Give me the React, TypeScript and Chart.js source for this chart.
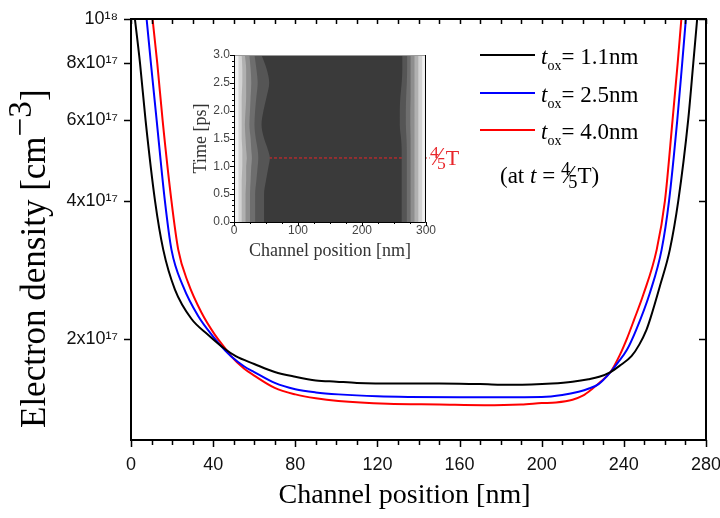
import React, { useEffect, useRef } from "react";
import { Chart, registerables } from "chart.js";
Chart.register(...registerables);

const SERIF = "'Liberation Serif', 'Times New Roman', Times, serif";
const SANS = "'Liberation Sans', Arial, Helvetica, sans-serif";

// ---- main chart data (x in nm, y in units of 1e17 cm^-3) ----
const blackX = [0, 1.9, 4.4, 7.1, 11.7, 15.7, 21.4, 29.4, 37.5, 45.6, 51, 60, 70, 80, 90, 100, 110, 130, 150, 170, 185, 195, 205, 215, 222.8, 228, 233.5, 238, 243.7, 247.5, 251, 253, 257.5, 262.4, 266.5, 271.3, 273.8, 275.7, 277];
const blackY = [11.8, 10, 8, 6, 4, 3.13, 2.56, 2.21, 2.04, 1.9, 1.83, 1.76, 1.69, 1.65, 1.62, 1.61, 1.6, 1.595, 1.595, 1.59, 1.585, 1.587, 1.595, 1.61, 1.63, 1.65, 1.69, 1.745, 1.83, 1.94, 2.09, 2.22, 2.6, 3.13, 4, 6, 8, 10, 11.6];

const blueX = [5, 7.6, 9.7, 12.5, 16.5, 19.7, 25.4, 32.7, 40, 46, 48.7, 55, 60, 70, 80, 90, 101, 120, 135, 160, 180, 200, 210, 218, 223, 227.7, 233.3, 237, 241.5, 246, 252.7, 258.4, 262, 266, 268.4, 270.2, 272];
const blueY = [13, 10, 8, 6, 4, 3.13, 2.6, 2.24, 2.02, 1.88, 1.83, 1.74, 1.69, 1.6, 1.55, 1.525, 1.51, 1.495, 1.49, 1.488, 1.488, 1.49, 1.505, 1.53, 1.555, 1.59, 1.685, 1.77, 1.89, 2.09, 2.52, 3.13, 4, 6, 8, 10, 12.3];

const redX = [8, 10.5, 12.8, 15.4, 19.7, 23, 27.8, 34.3, 40.8, 46.4, 48.7, 55, 60, 70, 80, 90, 101, 125, 150, 172, 190, 200, 207, 215, 220, 224.4, 228, 233.5, 238, 241.5, 245, 249.4, 256, 260, 263.7, 266.2, 268, 269.5];
const redY = [12.4, 10, 8, 6, 4, 3.13, 2.65, 2.28, 2.04, 1.89, 1.83, 1.72, 1.66, 1.56, 1.51, 1.48, 1.46, 1.44, 1.435, 1.43, 1.435, 1.445, 1.45, 1.47, 1.5, 1.55, 1.6, 1.69, 1.84, 2.0, 2.2, 2.49, 3.13, 4, 6, 8, 10, 12];

const seriesColors = ["#000000", "#0000ff", "#ff0000"];
const seriesThickness = ["1.1", "2.5", "4.0"];

const xTicks = [0, 40, 80, 120, 160, 200, 240, 280];
const xMinorStep = 10;
const yTicks = [2e17, 4e17, 6e17, 8e17, 1e18];
const yTickLabels = ["2x10¹⁷", "4x10¹⁷", "6x10¹⁷", "8x10¹⁷", "10¹⁸"];

// ---- inset (time vs channel position contour bands) ----
const insetT = [0, 0.25, 0.5, 0.75, 1.0, 1.15, 1.3, 1.5, 1.75, 2.0, 2.25, 2.5, 2.75, 3.0];
const bandL1 = [7, 7, 7, 7, 7, 7, 7, 7, 7, 7, 7, 7, 7, 7];
const bandL2 = [12, 12, 12, 12, 13, 13, 13, 12, 12, 12, 12, 13, 13, 12];
const bandL3 = [18, 18, 18, 19, 19, 20, 19, 18, 17, 18, 19, 19, 19, 17];
const bandL4 = [25, 25, 25, 26, 27, 28, 27, 26, 24, 25, 26, 27, 26, 24];
const bandL5 = [33, 33, 33, 35, 37, 38, 37, 34, 32, 33, 35, 37, 35, 32];
const bandL6 = [47, 47, 47, 50, 54, 56, 53, 47, 43, 46, 51, 55, 51, 43];
const bandR1 = [262, 262, 262, 262, 262, 262, 262, 261, 259, 259, 260, 262, 263, 263];
const bandR2 = [270, 270, 270, 270, 270, 270, 270, 269.5, 268.5, 268.5, 269, 270, 270.5, 270.5];
const bandR3 = [276, 276, 276, 276, 276, 276, 276, 276, 275.5, 275.5, 276, 276, 276, 276];
const bandR4 = [282, 282, 282, 282, 282, 282, 282, 282, 282, 282, 282, 282, 282, 282];
const bandR5 = [288, 288, 288, 288, 288, 288, 288, 288, 288, 288, 288, 288, 288, 288];
const bandR6 = [294, 294, 294, 294, 294, 294, 294, 294, 294, 294, 294, 294, 294, 294];
const bandColors = ["#f0f0f0", "#d2d2d2", "#b0b0b0", "#8e8e8e", "#6e6e6e", "#555555"];
const insetDark = "#3a3a3a";
const markTime = 1.15;
const insetXTicks = [0, 100, 200, 300];
const insetYTicks = [0, 0.5, 1, 1.5, 2, 2.5, 3];

const framePlugin = {
  id: "frame",
  afterDatasetsDraw(chart: any) {
    const { ctx, chartArea: a, scales } = chart;
    const x = scales.x, y = scales.y;
    ctx.save();
    ctx.strokeStyle = "#000";
    ctx.lineWidth = 2;
    ctx.strokeRect(a.left, a.top, a.right - a.left, a.bottom - a.top);
    ctx.lineWidth = 1.5;
    ctx.beginPath();
    for (let v = x.min; v <= x.max; v += xMinorStep) {
      const px = Math.round(x.getPixelForValue(v)) + 0.5;
      const major = xTicks.includes(v);
      ctx.moveTo(px, a.bottom);
      ctx.lineTo(px, a.bottom + (major ? 7 : 5));
      ctx.moveTo(px, a.top);
      ctx.lineTo(px, a.top + 5);
    }
    for (const v of yTicks) {
      const py = Math.round(y.getPixelForValue(v)) + 0.5;
      ctx.moveTo(a.left, py);
      ctx.lineTo(a.left - 7, py);
      ctx.moveTo(a.right, py);
      ctx.lineTo(a.right - 7, py);
    }
    ctx.stroke();
    ctx.restore();
  },
};

const insetPlugin = {
  id: "insetFrame",
  beforeDraw(chart: any) {
    const { ctx, chartArea: a } = chart;
    ctx.save();
    ctx.fillStyle = insetDark;
    ctx.fillRect(a.left, a.top, a.right - a.left, a.bottom - a.top);
    ctx.restore();
  },
  afterDatasetsDraw(chart: any) {
    const { ctx, chartArea: a, scales } = chart;
    const x = scales.x, y = scales.y;
    ctx.save();
    ctx.lineWidth = 1;
    ctx.strokeStyle = "#9a9a9a";
    ctx.beginPath();
    ctx.moveTo(a.left, a.top + 0.5);
    ctx.lineTo(a.right, a.top + 0.5);
    ctx.stroke();
    ctx.strokeStyle = "#000";
    ctx.beginPath();
    ctx.moveTo(a.left + 0.5, a.top);
    ctx.lineTo(a.left + 0.5, a.bottom + 0.5);
    ctx.lineTo(a.right - 0.5, a.bottom + 0.5);
    ctx.lineTo(a.right - 0.5, a.top);
    for (let v = 0; v <= 300; v += 25) {
      const px = Math.round(x.getPixelForValue(v)) + 0.5;
      ctx.moveTo(px, a.bottom);
      ctx.lineTo(px, a.bottom + (insetXTicks.includes(v) ? 4 : 2));
    }
    for (let i = 0; i <= 30; i++) {
      const v = i / 10;
      const py = Math.round(y.getPixelForValue(v)) + 0.5;
      ctx.moveTo(a.left, py);
      ctx.lineTo(a.left - (i % 5 === 0 ? 4 : 2), py);
    }
    ctx.stroke();
    ctx.restore();
  },
};

const Frac = () => (
  <span style={{ whiteSpace: "nowrap" }}>
    <span style={{ fontSize: "0.8em", position: "relative", top: "-0.42em" }}>4</span>
    <span style={{ fontSize: "1.1em", margin: "0 -0.12em" }}>⁄</span>
    <span style={{ fontSize: "0.8em", position: "relative", top: "0.25em" }}>5</span>
    T
  </span>
);

export default function App() {
  const mainRef = useRef<HTMLCanvasElement>(null);
  const insetRef = useRef<HTMLCanvasElement>(null);

  useEffect(() => {
    document.body.style.margin = "0";
    const pts = (xs: number[], ys: number[]) => xs.map((x, i) => ({ x, y: ys[i] * 1e17 }));
    const series = [
      [blackX, blackY],
      [blueX, blueY],
      [redX, redY],
    ];
    const main = new Chart(mainRef.current as HTMLCanvasElement, {
      type: "line",
      data: {
        datasets: series.map(([xs, ys], i) => ({
          label: "t_ox = " + seriesThickness[i] + "nm",
          data: pts(xs, ys),
          borderColor: seriesColors[i],
          borderWidth: 2,
          pointRadius: 0,
          fill: false,
          cubicInterpolationMode: "monotone" as const,
        })),
      },
      options: {
        animation: false,
        responsive: false,
        devicePixelRatio: 1,
        layout: { padding: { top: 19, right: 14, left: 0, bottom: 0 } },
        plugins: { legend: { display: false }, tooltip: { enabled: false } },
        scales: {
          x: {
            type: "linear",
            min: 0,
            max: 280,
            afterBuildTicks: (s: any) => {
              s.ticks = xTicks.map((v) => ({ value: v }));
            },
            afterFit: (s: any) => {
              s.height = 78;
              s.paddingLeft = 0;
              s.paddingRight = 0;
            },
            grid: { display: false, drawTicks: false },
            border: { display: false },
            ticks: {
              autoSkip: false,
              maxRotation: 0,
              padding: 14,
              color: "#111",
              font: { family: SANS, size: 18 },
            },
            title: {
              display: true,
              text: "Channel position [nm]\u00a0\u00a0\u00a0\u00a0",
              color: "#000",
              font: { family: SERIF, size: 28 },
              padding: { top: 0, bottom: 6 },
            },
          },
          y: {
            type: "logarithmic",
            min: 1.2e17,
            max: 1e18,
            afterBuildTicks: (s: any) => {
              s.ticks = yTicks.map((v) => ({ value: v }));
            },
            afterFit: (s: any) => {
              s.width = 131;
              s.paddingTop = 0;
              s.paddingBottom = 0;
            },
            grid: { display: false, drawTicks: false },
            border: { display: false },
            ticks: {
              padding: 13,
              color: "#111",
              font: { family: SANS, size: 18 },
              callback: (_v: any, i: number) => yTickLabels[i],
            },
            title: { display: false },
          },
        },
      },
      plugins: [framePlugin],
    } as any);

    const tpts = (xs: number[]) => xs.map((x, i) => ({ x, y: insetT[i] }));
    const leftBands = [bandL1, bandL2, bandL3, bandL4, bandL5, bandL6];
    const rightBands = [bandR6, bandR5, bandR4, bandR3, bandR2, bandR1];
    const bandDs = [
      ...leftBands.map((b, i) => ({
        data: tpts(b),
        backgroundColor: bandColors[i],
        borderWidth: 0,
        pointRadius: 0,
        fill: { value: 0 },
        cubicInterpolationMode: "monotone" as const,
      })),
      ...rightBands.map((b, i) => ({
        data: tpts(b),
        backgroundColor: bandColors[i],
        borderWidth: 0,
        pointRadius: 0,
        fill: { value: 300 },
        cubicInterpolationMode: "monotone" as const,
      })),
    ];
    const inset = new Chart(insetRef.current as HTMLCanvasElement, {
      type: "line",
      data: {
        datasets: [
          ...bandDs,
          {
            data: [
              { x: 0, y: markTime },
              { x: 306, y: markTime },
            ],
            borderColor: "#e8262b",
            borderWidth: 1,
            borderDash: [3, 2],
            pointRadius: 0,
            fill: false,
            clip: false,
          },
        ],
      },
      options: {
        animation: false,
        responsive: false,
        devicePixelRatio: 1,
        indexAxis: "y",
        layout: { padding: { top: 10, right: 14, left: 0, bottom: 0 } },
        plugins: { legend: { display: false }, tooltip: { enabled: false } },
        scales: {
          x: {
            type: "linear",
            min: 0,
            max: 300,
            afterBuildTicks: (s: any) => {
              s.ticks = insetXTicks.map((v) => ({ value: v }));
            },
            afterFit: (s: any) => {
              s.height = 41;
              s.paddingLeft = 0;
              s.paddingRight = 0;
            },
            grid: { display: false, drawTicks: false },
            border: { display: false },
            ticks: { autoSkip: false, maxRotation: 0, padding: 1, color: "#444", font: { family: SANS, size: 12 } },
            title: {
              display: true,
              text: "Channel position [nm]",
              color: "#333",
              font: { family: SERIF, size: 18 },
              padding: { top: 0, bottom: 1 },
            },
          },
          y: {
            type: "linear",
            min: 0,
            max: 3,
            afterBuildTicks: (s: any) => {
              s.ticks = insetYTicks.map((v) => ({ value: v }));
            },
            afterFit: (s: any) => {
              s.width = 44;
              s.paddingTop = 0;
              s.paddingBottom = 0;
            },
            grid: { display: false, drawTicks: false },
            border: { display: false },
            ticks: {
              padding: 4,
              color: "#444",
              font: { family: SANS, size: 12 },
              callback: (v: any) => Number(v).toFixed(1),
            },
            title: {
              display: true,
              text: "Time [ps]",
              color: "#333",
              font: { family: SERIF, size: 18 },
              padding: { top: 0, bottom: 0 },
            },
          },
        },
      },
      plugins: [insetPlugin],
    } as any);

    return () => {
      main.destroy();
      inset.destroy();
    };
  }, []);

  const legendRows = [55, 93, 130];
  return (
    <div style={{ position: "relative", width: 720, height: 518, background: "#fff", overflow: "hidden" }}>
      <canvas ref={mainRef} width={720} height={518} style={{ position: "absolute", left: 0, top: 0, width: 720, height: 518 }} />
      <canvas ref={insetRef} width={250} height={218} style={{ position: "absolute", left: 190, top: 45, width: 250, height: 218 }} />
      <div
        style={{
          position: "absolute",
          left: -166,
          top: 208,
          width: 400,
          height: 40,
          lineHeight: "40px",
          transform: "rotate(-90deg)",
          fontFamily: SERIF,
          fontSize: 35,
          color: "#000",
          whiteSpace: "nowrap",
          textAlign: "left",
        }}
      >
        Electron density [cm
        <span style={{ position: "relative", top: "-0.42em", fontSize: "0.95em" }}>−3</span>]
      </div>
      {legendRows.map((cy, i) => (
        <React.Fragment key={i}>
          <div style={{ position: "absolute", left: 480, top: cy - 1, width: 55, height: 2, background: seriesColors[i] }} />
          <div
            style={{
              position: "absolute",
              left: 541,
              top: cy - 12,
              fontFamily: SERIF,
              fontSize: 23,
              lineHeight: "28px",
              color: "#000",
              whiteSpace: "nowrap",
            }}
          >
            <i>t</i>
            <span style={{ fontSize: 14, position: "relative", top: 6 }}>ox</span>= {seriesThickness[i]}nm
          </div>
        </React.Fragment>
      ))}
      <div
        style={{
          position: "absolute",
          left: 500,
          top: 160,
          fontFamily: SERIF,
          fontSize: 23,
          lineHeight: "28px",
          color: "#000",
          whiteSpace: "nowrap",
        }}
      >
        (at <i>t</i> = <Frac />)
      </div>
      <div
        style={{
          position: "absolute",
          left: 430,
          top: 143,
          fontFamily: SERIF,
          fontSize: 22,
          lineHeight: "28px",
          color: "#e8262b",
          whiteSpace: "nowrap",
        }}
      >
        <Frac />
      </div>
    </div>
  );
}
